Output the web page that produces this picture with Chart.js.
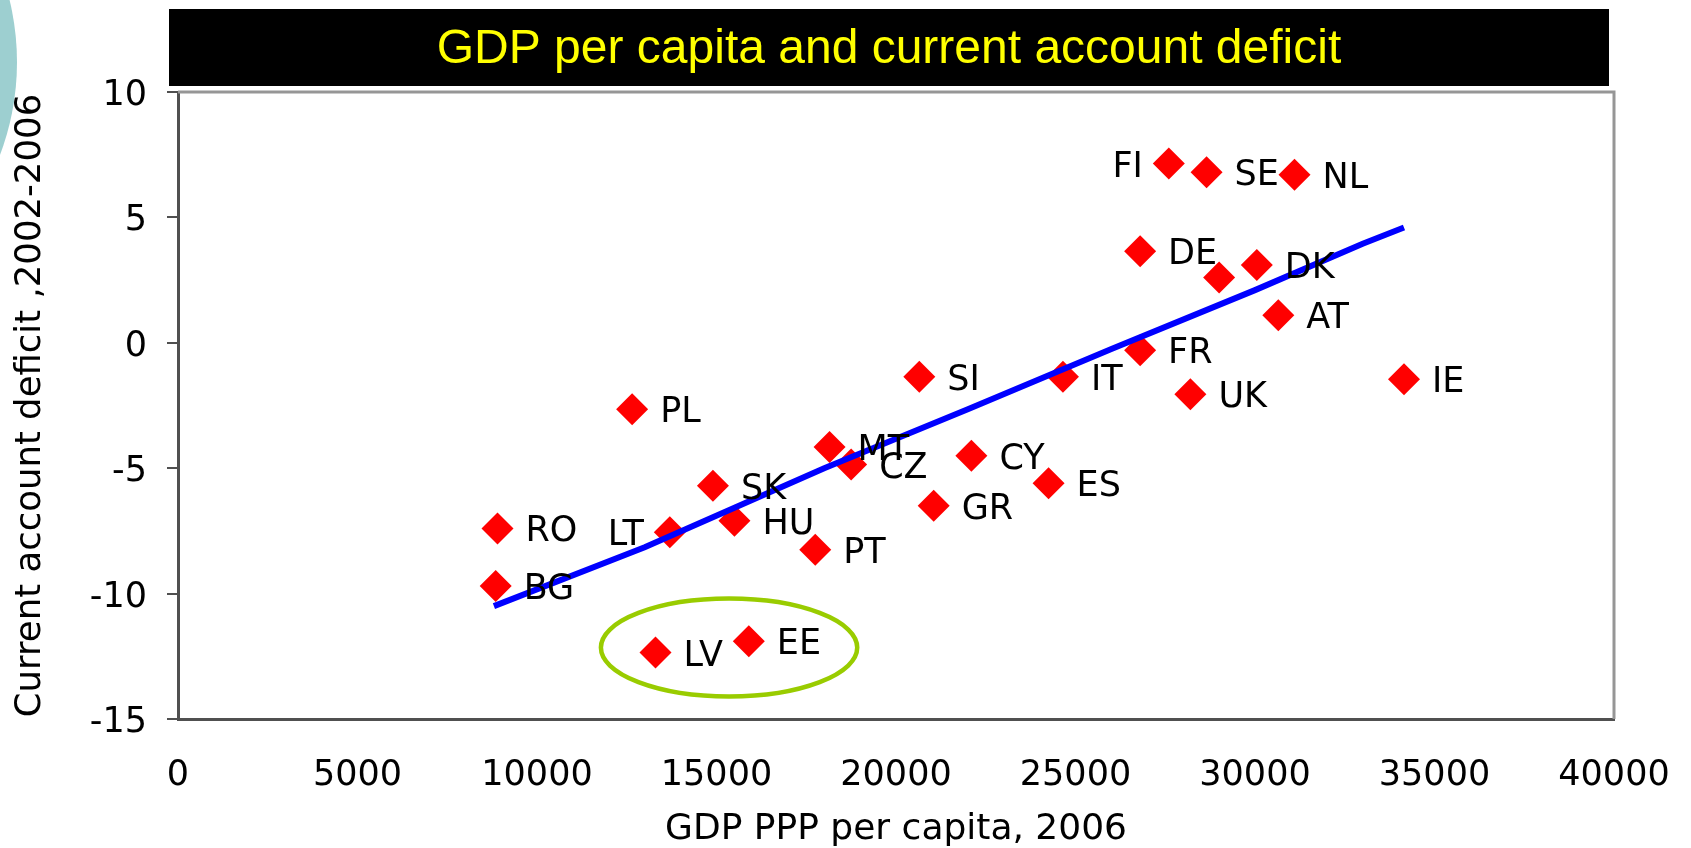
<!DOCTYPE html>
<html lang="en">
<head>
    <meta charset="UTF-8">
    <title>GDP per capita and current account deficit</title>
    <script src="https://cdn.jsdelivr.net/npm/chart.js"></script>
    <style>
        html, body { margin: 0; padding: 0; background: #fff; overflow: hidden; }
        #wrap { position: relative; width: 1691px; height: 848px; }
        #blob { position: absolute; left: -509px; top: -201px; width: 526px; height: 526px; border-radius: 50%; background: #9dcfd0; }
        canvas { position: absolute; left: 0; top: 0; }
    </style>
</head>
<body>
<div id="wrap">
    <div id="blob"></div>
    <canvas id="chart" width="1691" height="848"></canvas>
</div>
<script>
    const countries = ['FI', 'SE', 'NL', 'DE', '', 'DK', 'AT', 'FR', 'IT', 'SI', 'UK', 'IE', 'PL',
        'MT', 'CZ', 'CY', 'ES', 'GR', 'SK', 'HU', 'PT', 'LT', 'RO', 'BG', 'LV', 'EE'];
    const gdp = [27600, 28650, 31100, 26800, 29000, 30050, 30650, 26800, 24650, 20650, 28200, 34150, 12650,
        18150, 18750, 22100, 24250, 21050, 14900, 15500, 17750, 13700, 8900, 8850, 13300, 15900];
    const deficit = [7.15, 6.8, 6.7, 3.65, 2.6, 3.1, 1.1, -0.3, -1.35, -1.35, -2.05, -1.45, -2.65,
        -4.15, -4.85, -4.5, -5.6, -6.5, -5.7, -7.1, -8.25, -7.55, -7.4, -9.7, -12.35, -11.9];

    // trend line
    const trendX = [8800, 13000, 18000, 22000, 26000, 30000, 33000, 34150];
    const trendY = [-10.5, -8.15, -5.0, -2.65, -0.25, 2.1, 3.95, 4.6];

    const xTicks = [0, 5000, 10000, 15000, 20000, 25000, 30000, 35000, 40000];
    const yTicks = [-15, -10, -5, 0, 5, 10];

    const titleText = 'GDP per capita and current account deficit';
    const leftLabels = ['FI', 'LT'];
    const ring = { x: 15350, y: -12.15, rx: 3570, ry: 1.95 };

    const font = 'DejaVu Sans';

    const decor = {
        id: 'decor',
        beforeDraw(chart) {
            const ctx = chart.ctx;
            ctx.save();
            ctx.fillStyle = '#000';
            ctx.fillRect(169, 9, 1440, 77);
            ctx.fillStyle = '#ffff00';
            ctx.font = '48px "Liberation Sans", Arial, sans-serif';
            ctx.textAlign = 'center';
            ctx.textBaseline = 'middle';
            ctx.fillText(titleText, 889, 50);
            ctx.restore();
        },
        beforeDatasetsDraw(chart) {
            const { ctx, chartArea: a } = chart;
            ctx.save();
            ctx.strokeStyle = '#969696';
            ctx.lineWidth = 3;
            ctx.beginPath();
            ctx.moveTo(a.left, a.top);
            ctx.lineTo(a.right, a.top);
            ctx.lineTo(a.right, a.bottom);
            ctx.stroke();
            ctx.restore();
        },
        afterDatasetsDraw(chart) {
            const ctx = chart.ctx;
            const xs = chart.scales.x, ys = chart.scales.y;
            ctx.save();
            // circle round the Baltic pair
            ctx.strokeStyle = '#99cc00';
            ctx.lineWidth = 4.5;
            const cx = xs.getPixelForValue(ring.x), cy = ys.getPixelForValue(ring.y);
            const rx = xs.getPixelForValue(ring.x + ring.rx) - cx;
            const ry = ys.getPixelForValue(ring.y - ring.ry) - cy;
            ctx.beginPath();
            ctx.ellipse(cx, cy, rx, ry, 0, 0, Math.PI * 2);
            ctx.stroke();

            ctx.fillStyle = '#000';
            ctx.font = '35px "' + font + '"';
            ctx.textBaseline = 'middle';
            const meta = chart.getDatasetMeta(1);
            meta.data.forEach((pt, i) => {
                const name = countries[i];
                if (!name) return;
                if (leftLabels.includes(name)) {
                    ctx.textAlign = 'right';
                    ctx.fillText(name, pt.x - 26, pt.y + 4);
                } else {
                    ctx.textAlign = 'left';
                    ctx.fillText(name, pt.x + 28, pt.y + 4);
                }
            });
            ctx.restore();
        }
    };

    new Chart(document.getElementById('chart'), {
        type: 'scatter',
        data: {
            datasets: [{
                type: 'line',
                data: trendX.map((x, i) => ({ x: x, y: trendY[i] })),
                borderColor: '#0000ff',
                borderWidth: 6,
                pointRadius: 0,
                tension: 0,
                fill: false,
                order: 0
            }, {
                data: gdp.map((x, i) => ({ x: x, y: deficit[i] })),
                pointStyle: 'rectRot',
                pointRadius: 16,
                backgroundColor: '#ff0000',
                borderWidth: 0,
                order: 1
            }]
        },
        options: {
            responsive: false,
            animation: false,
            layout: { padding: { top: 92, right: 77, left: 0, bottom: 0 } },
            plugins: { legend: { display: false }, tooltip: { enabled: false } },
            scales: {
                x: {
                    type: 'linear',
                    min: 0,
                    max: 40000,
                    afterBuildTicks: s => { s.ticks = xTicks.map(v => ({ value: v })); },
                    afterFit: s => { s.height = 129; },
                    // invisible tick marks keep the labels low without widening the side padding
                    grid: { drawOnChartArea: false, drawTicks: true, tickLength: 34, color: 'rgba(0,0,0,0)' },
                    border: { color: '#505050', width: 3 },
                    ticks: { padding: 2, color: '#000', maxRotation: 0, font: { family: font, size: 35 }, callback: v => String(v) },
                    title: { display: true, text: 'GDP PPP per capita, 2006', color: '#000', font: { family: font, size: 36, lineHeight: 1.0 }, padding: { top: 0, bottom: 0 } }
                },
                y: {
                    type: 'linear',
                    min: -15,
                    max: 10,
                    afterBuildTicks: s => { s.ticks = yTicks.map(v => ({ value: v })); },
                    afterFit: s => { s.width = 178; },
                    grid: { drawOnChartArea: false, drawTicks: true, tickLength: 11, color: '#505050', lineWidth: 2 },
                    border: { color: '#505050', width: 3 },
                    ticks: { padding: 20, labelOffset: 4, color: '#000', font: { family: font, size: 35 }, callback: v => String(v) },
                    title: { display: true, text: 'Current account deficit ,2002-2006', color: '#000', font: { family: font, size: 35.5 }, padding: { top: 9, bottom: 0 } }
                }
            }
        },
        plugins: [decor]
    });
</script>
</body>
</html>
